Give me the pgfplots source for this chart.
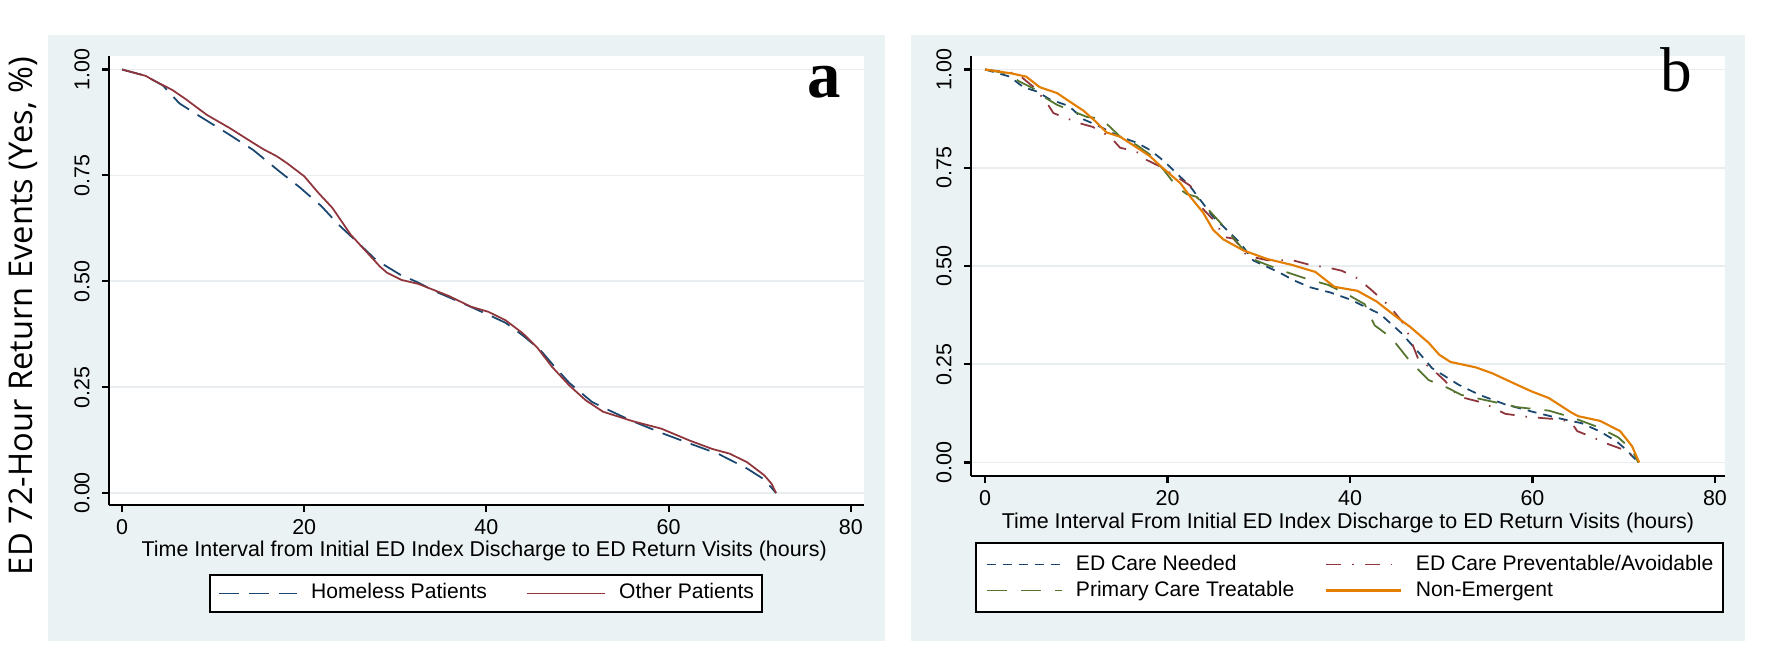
\documentclass[border=0pt]{standalone}
\usepackage{fontspec}
\setmainfont{Liberation Sans}
\newfontfamily\ylabfont{Open Sans}
\newfontfamily\tagfont{Liberation Serif}
\usepackage{pgfplots}
\pgfplotsset{compat=1.18}

\definecolor{statabg}{RGB}{234,242,243}
\definecolor{statagrid}{RGB}{232,238,240}
\definecolor{statanavy}{RGB}{26,71,111}
\definecolor{statamaroon}{RGB}{144,53,59}
\definecolor{statagreen}{RGB}{85,117,47}
\definecolor{stataorange}{RGB}{227,126,0}

\pgfplotsset{
  statapanel/.style={
    scale only axis,
    clip mode=individual,
    axis background/.style={fill=white},
    xtick={0,20,40,60,80},
    ytick={0,0.25,0.5,0.75,1},
    axis x line*=bottom, axis y line*=left,
    axis line style={-, line width=0.6pt, black},
    tick align=outside,
    major tick length=0.7mm,
    tick style={line width=0.6pt, black},
    ymajorgrids,
    major grid style={line width=0.45pt, statagrid},
    /pgf/number format/assume math mode=true,
    tick label style={font=\fontsize{6.1}{7}\selectfont},
    xticklabel style={yshift=0.45mm},
    yticklabel style={rotate=90, anchor=south,
      /pgf/number format/fixed, /pgf/number format/fixed zerofill,
      /pgf/number format/precision=2},
    xlabel style={font=\fontsize{6.1}{7}\selectfont, anchor=center},
    legend cell align=left,
    legend style={draw=black, line width=0.6pt, anchor=center,
      font=\fontsize{6}{7}\selectfont,
      nodes={inner xsep=0mm, inner ysep=0.3mm, text height=1.55mm, text depth=0.45mm},
      column sep=1.35mm},
  },
  km/.style={line width=0.5pt},
}

\begin{document}
\begin{tikzpicture}
\path[use as bounding box] (0,0) rectangle (177.2mm,65.2mm);
\fill[statabg] (4.8mm,1.1mm) rectangle (88.5mm,61.7mm);
\fill[statabg] (91.1mm,1.1mm) rectangle (174.5mm,61.7mm);

% panel a
\begin{axis}[statapanel,
    at={(10.9mm,14.7mm)}, anchor=south west,
    width=75.5mm, height=44.9mm,
    xmin=-1.43, xmax=81.45, ymin=-0.0283, ymax=1.0319,
    xlabel={Time Interval from Initial ED Index Discharge to ED Return Visits (hours)},
    xlabel style={at={(axis description cs:0.497,-0.1025)}},
    ylabel={ED 72-Hour Return Events (Yes, \%)},
    ylabel style={font=\ylabfont\fontsize{9.3}{11}\selectfont,
      at={(axis description cs:-0.114,0.421)}, anchor=center},
    legend columns=2,
    legend image code/.code={\draw[#1] (0mm,0mm) -- (7.8mm,0mm);},
    legend style={at={(axis description cs:0.4993,-0.197)},
      inner xsep=0.8mm, inner ysep=0.55mm,
      /tikz/every even column/.append style={column sep=3.9mm}},
  ]
\addplot[km, statanavy, dash pattern=on 2mm off 1mm] coordinates {
(0,1.0) (2.6,0.985) (4.5,0.962) (6.3,0.92) (8.5,0.890) (11.5,0.850)
(14.4,0.810) (17.3,0.759) (19.5,0.722) (21.9,0.677) (23.8,0.633)
(25.7,0.595) (27.9,0.550) (30.5,0.516) (32.4,0.498) (34.5,0.475)
(37.1,0.451) (40.2,0.421) (42.1,0.402) (44,0.372) (45.9,0.338)
(47.5,0.298) (49.1,0.260) (51.6,0.215) (53.5,0.195) (56,0.170)
(59.2,0.142) (62.3,0.117) (65.5,0.092) (68.6,0.058) (70.5,0.032) (71.8,0.0)
};
\addplot[km, statamaroon] coordinates {
(0,1.0) (2.6,0.985) (3.4,0.975) (5.5,0.952) (7,0.93) (9.3,0.893)
(11.8,0.862) (14.3,0.828) (15.5,0.812) (17,0.795) (18.1,0.779)
(20,0.748) (21.5,0.71) (23.1,0.673) (25.1,0.61) (26.9,0.568)
(28.3,0.535) (29.1,0.52) (30.7,0.503) (32.5,0.494) (35.8,0.466)
(38.3,0.440) (40.2,0.428) (42.1,0.408) (44,0.377) (45.6,0.343)
(47.2,0.298) (49.1,0.254) (50.9,0.219) (52.8,0.192) (56,0.170)
(59.2,0.152) (62.3,0.124) (64.8,0.104) (66.7,0.093) (68.6,0.073)
(70.5,0.042) (71.3,0.022) (71.8,0.0)
};
\legend{Homeless Patients, Other Patients}
\node[font=\tagfont\bfseries\fontsize{19}{19}\selectfont, inner sep=0pt]
  at (axis description cs:0.947,0.942) {a};
\end{axis}

% panel b
\begin{axis}[statapanel,
    at={(97.1mm,17.6mm)}, anchor=south west,
    width=75.4mm, height=42.0mm,
    xmin=-1.54, xmax=81.1, ymin=-0.0343, ymax=1.0344,
    xlabel={Time Interval From Initial ED Index Discharge to ED Return Visits (hours)},
    xlabel style={at={(axis description cs:0.5,-0.111)}},
    legend columns=2,
    legend image code/.code={\draw[#1] (0mm,0mm) -- (7.5mm,0mm);},
    legend style={at={(axis description cs:0.502,-0.2417)},
      inner xsep=1.0mm, inner ysep=0.85mm,
      /tikz/every even column/.append style={column sep=3.1mm}},
  ]
\addplot[km, statanavy, dash pattern=on 0.9mm off 0.7mm] coordinates {
(0,1.0) (2.7,0.982) (4.2,0.955) (5.7,0.944) (7.1,0.924) (9.2,0.907)
(10.8,0.873) (12.2,0.859) (14.8,0.829) (16.6,0.814) (18.1,0.795)
(19.6,0.767) (21,0.736) (22.5,0.702) (23.6,0.668) (25,0.625)
(26.5,0.592) (28,0.558) (29.4,0.514) (30.9,0.498) (32.3,0.483)
(33.8,0.464) (35.6,0.446) (37.8,0.433) (40,0.415) (41.5,0.398)
(43.3,0.378) (45.6,0.330) (47.6,0.278) (49,0.240) (51.9,0.198)
(54.2,0.172) (57,0.148) (60.2,0.128) (63.2,0.111) (65.4,0.100)
(67.4,0.079) (69.2,0.054) (70.3,0.032) (71.6,0.0)
};
\addplot[km, statamaroon, dash pattern=on 1.5mm off 1.1mm on 0.15mm off 1.1mm] coordinates {
(0,1.0) (3.5,0.99) (5.3,0.956) (6.8,0.914) (7.5,0.889) (8.6,0.879)
(10.4,0.863) (11.8,0.854) (13.7,0.829) (14.8,0.801) (15.9,0.795)
(17,0.787) (17.7,0.770) (19.2,0.753) (21,0.727) (22.5,0.704)
(23.2,0.676) (23.9,0.645) (25.4,0.608) (26.1,0.574) (27.2,0.570)
(28,0.549) (28.7,0.526) (30.9,0.515) (33.8,0.514) (35.6,0.503)
(37.8,0.495) (39.1,0.488) (40.8,0.469) (42.3,0.440) (44.4,0.396)
(46,0.350) (46.7,0.309) (47.5,0.262) (48.9,0.240) (50.4,0.208)
(51.9,0.168) (54.6,0.152) (57,0.124) (59.5,0.116) (62.2,0.111)
(64.2,0.104) (64.9,0.080) (66.6,0.064) (68.4,0.046) (70.3,0.030) (71.6,0.0)
};
\addplot[km, statagreen, dash pattern=on 2mm off 1.4mm] coordinates {
(0,1.0) (2.4,0.99) (3.8,0.969) (5.3,0.952) (6.4,0.931) (7.9,0.910)
(9.3,0.897) (11.2,0.879) (12.6,0.876) (13.7,0.854) (14.8,0.829)
(16.6,0.808) (18.1,0.783) (19.6,0.744) (21,0.702) (22.1,0.683)
(23.2,0.676) (24.7,0.638) (26.5,0.592) (28,0.550) (29.1,0.520)
(30.9,0.503) (33.1,0.484) (35.3,0.467) (37.6,0.452) (40,0.424)
(41.6,0.403) (42.7,0.349) (44.5,0.318) (46.6,0.257) (48.6,0.210)
(50.7,0.190) (52.2,0.172) (55.2,0.157) (58.3,0.141) (61.8,0.132)
(64.3,0.115) (67.2,0.090) (69.4,0.064) (70.9,0.032) (71.6,0.0)
};
\addplot[line width=0.6pt, stataorange] coordinates {
(0,1.0) (2.9,0.99) (4.5,0.982) (6,0.955) (7.9,0.94) (9.3,0.918)
(10.8,0.895) (12.2,0.866) (13.3,0.840) (14.8,0.829) (16.6,0.802)
(18.1,0.779) (19.2,0.755) (21.4,0.711) (22.5,0.676) (23.9,0.636)
(25,0.592) (26.1,0.568) (28.3,0.540) (30.9,0.518) (33.6,0.503)
(36.2,0.485) (38.3,0.447) (40.8,0.437) (42.9,0.410) (45,0.372)
(46.6,0.345) (48.6,0.305) (49.8,0.274) (51,0.256) (53.8,0.242)
(55.6,0.227) (58.1,0.200) (59.9,0.181) (61.8,0.164) (64.2,0.128)
(65,0.118) (67.4,0.106) (69.6,0.080) (70.9,0.042) (71.7,0.0)
};
\legend{ED Care Needed, ED Care Preventable/Avoidable, Primary Care Treatable, Non-Emergent}
\node[font=\tagfont\fontsize{18}{18}\selectfont, inner sep=0pt]
  at (axis description cs:0.936,0.967) {b};
\end{axis}
\end{tikzpicture}
\end{document}
